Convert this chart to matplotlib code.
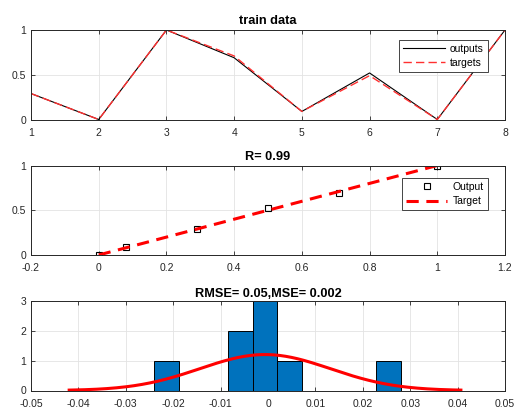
import numpy as np
import matplotlib
matplotlib.use("Agg")
import matplotlib.pyplot as plt
from matplotlib.ticker import FuncFormatter

# dane
idx = [1, 2, 3, 4, 5, 6, 7, 8]
outputs = [0.29, 0.0, 1.0, 0.69, 0.09, 0.52, 0.0, 1.0]
targets = [0.29, 0.0, 1.0, 0.71, 0.09, 0.49, 0.0, 1.0]

reg_x = [0.0, 0.08, 0.29, 0.50, 0.71, 1.0]
reg_out = [0.0, 0.09, 0.29, 0.52, 0.69, 1.0]
reg_tgt = [0.0, 0.08, 0.29, 0.50, 0.71, 1.0]

errors = [-0.023, -0.006, -0.004, -0.002, -0.001, 0.0, 0.004, 0.027]
bin_edges = [-0.024, -0.0188, -0.0136, -0.0084, -0.0032, 0.002,
             0.0072, 0.0124, 0.0176, 0.0228, 0.028]

plt.rcParams['font.family'] = ['Liberation Sans', 'DejaVu Sans']
plt.rcParams['font.size'] = 7.5
txt = '#262626'

fig = plt.figure(figsize=(5.19, 4.09), dpi=100)
L, W, H = 31 / 519, 474 / 519, 89.5 / 409
ax1 = fig.add_axes([L, 1 - 119.5 / 409, W, H])
ax2 = fig.add_axes([L, 1 - 255 / 409, W, H])
ax3 = fig.add_axes([L, 1 - 390.5 / 409, W, H])

fmt = FuncFormatter(lambda v, p: ('%g' % round(v, 6)))

def styl(ax):
    ax.grid(True, color='#e3e3e3', lw=0.6)
    ax.set_axisbelow(True)
    for s in ax.spines.values():
        s.set_color(txt)
        s.set_linewidth(0.7)
    ax.tick_params(direction='in', length=3, width=0.6, colors=txt,
                   top=True, right=True, labelsize=7.5)
    ax.tick_params(axis='x', pad=6)
    ax.tick_params(axis='y', pad=3.5)
    ax.xaxis.set_major_formatter(fmt)
    ax.yaxis.set_major_formatter(fmt)

# 1. train data
ax1.plot(idx, outputs, color='black', lw=0.8, label='outputs')
ax1.plot(idx, targets, color='#ff3030', lw=1.0, ls=(0, (6, 3)), label='targets')
ax1.set_xlim(1, 8)
ax1.set_ylim(0, 1)
ax1.set_xticks(range(1, 9))
ax1.set_yticks([0, 0.5, 1])
ax1.set_title('train data', fontweight='bold', fontsize=9.2, pad=4)
leg = ax1.legend(loc='upper right', bbox_to_anchor=(0.975, 0.95), fancybox=False,
                 edgecolor=txt, framealpha=1, fontsize=7.5, handlelength=4.0,
                 borderpad=0.4, labelspacing=0.4, handletextpad=0.5)
leg.get_frame().set_linewidth(0.6)
styl(ax1)

# 2. regresja
ax2.plot(reg_x, reg_out, 's', mfc='none', mec='black', ms=5, mew=0.8, label='Output')
ax2.plot(reg_x, reg_tgt, color='red', lw=2.2, ls=(0, (4, 2.5)), label='Target')
ax2.set_xlim(-0.2, 1.2)
ax2.set_ylim(0, 1)
ax2.set_yticks([0, 0.5, 1])
ax2.set_title('R= 0.99', fontweight='bold', fontsize=9.2, pad=4)
leg = ax2.legend(loc='upper right', bbox_to_anchor=(0.975, 0.92), fancybox=False,
                 edgecolor=txt, framealpha=1, fontsize=7.5, handlelength=4.0,
                 borderpad=0.4, labelspacing=0.4, handletextpad=0.5)
leg.get_frame().set_linewidth(0.6)
styl(ax2)

# 3. histogram bledow + dopasowanie normalne
n, _, _ = ax3.hist(errors, bins=bin_edges, color='#0072BD', edgecolor='black', lw=0.7)
mu = np.mean(errors)
sd = np.std(errors, ddof=1)
bw = bin_edges[1] - bin_edges[0]
xs = np.linspace(mu - 3 * sd, mu + 3 * sd, 200)
ys = len(errors) * bw * np.exp(-0.5 * ((xs - mu) / sd) ** 2) / (sd * np.sqrt(2 * np.pi))
ax3.plot(xs, ys, color='red', lw=2.2)
ax3.set_xlim(-0.05, 0.05)
ax3.set_ylim(0, 3)
ax3.set_xticks(np.arange(-0.05, 0.0501, 0.01))
ax3.set_yticks([0, 1, 2, 3])
ax3.set_title('RMSE= 0.05,MSE= 0.002', fontweight='bold', fontsize=9.2, pad=3)
styl(ax3)

fig.savefig('out.png', dpi=100)
